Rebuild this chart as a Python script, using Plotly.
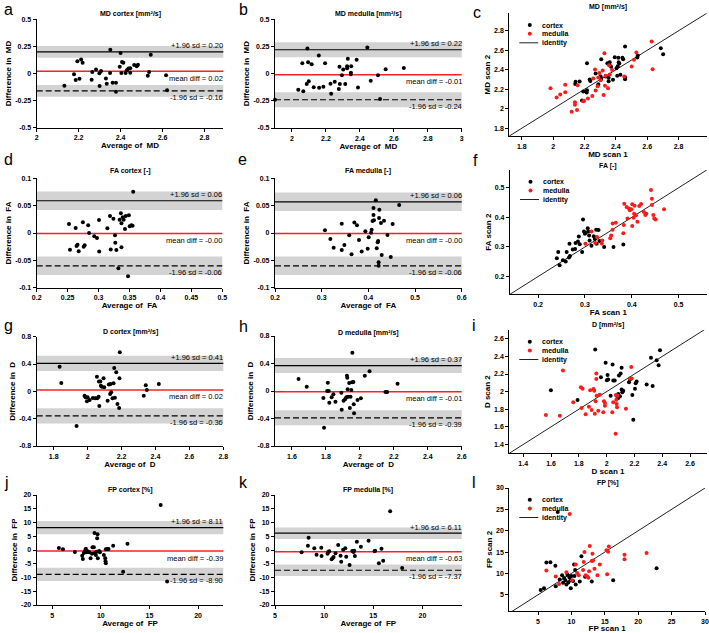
import plotly.graph_objects as go

W, H = 709, 633
FONT = "Liberation Sans, Arial, Helvetica, sans-serif"

# ---------------- data ----------------
# (a) MD cortex Bland-Altman
md_cortex_avg = [2.132, 2.178, 2.186, 2.194, 2.204, 2.212, 2.219, 2.262, 2.265, 2.283, 2.299, 2.300, 2.307, 2.330, 2.334, 2.350, 2.351, 2.362, 2.378, 2.378, 2.396, 2.400, 2.404, 2.407, 2.413, 2.424, 2.430, 2.438, 2.446, 2.446, 2.465, 2.477, 2.483, 2.530, 2.536, 2.544, 2.617, 2.622]
md_cortex_diff = [-0.113, -0.008, -0.060, 0.112, -0.048, 0.130, 0.100, -0.057, 0.014, 0.038, 0.002, -0.115, 0.023, -0.045, -0.094, 0.005, 0.220, -0.085, -0.085, -0.168, 0.063, 0.190, 0.005, 0.105, 0.100, 0.005, 0.029, 0.045, 0.008, 0.048, 0.078, 0.066, 0.081, -0.020, 0.014, 0.173, -0.017, -0.155]
md_cortex_limits = [0.20, 0.02, -0.16]
md_cortex_band = 0.054

# (b) MD medulla Bland-Altman
md_medulla_avg = [1.900, 2.037, 2.061, 2.067, 2.087, 2.091, 2.095, 2.099, 2.116, 2.128, 2.158, 2.160, 2.185, 2.195, 2.227, 2.231, 2.252, 2.276, 2.280, 2.282, 2.294, 2.302, 2.314, 2.325, 2.325, 2.329, 2.347, 2.347, 2.349, 2.381, 2.389, 2.444, 2.464, 2.507, 2.519, 2.552, 2.659]
md_medulla_diff = [-0.240, -0.148, 0.096, -0.163, -0.096, 0.231, 0.105, -0.069, 0.087, -0.124, 0.167, -0.130, -0.121, 0.096, -0.093, -0.185, -0.075, -0.142, 0.063, -0.096, -0.014, 0.038, -0.096, 0.050, 0.069, 0.136, 0.008, -0.005, 0.069, 0.127, -0.127, 0.240, -0.066, -0.014, -0.234, 0.041, 0.053]
md_medulla_limits = [0.22, -0.01, -0.24]
md_medulla_band = 0.068

# (c) MD scan 1 vs scan 2
md_cortex_scan1 = [2.216, 2.307, 2.459, 2.393, 2.442, 2.447, 2.416, 2.418, 2.422, 2.412, 2.346, 2.361, 2.361, 2.370, 2.404, 2.409, 2.429, 2.459, 2.459, 2.382, 2.354, 2.335, 2.303, 2.307, 2.297, 2.288, 2.271, 2.237, 2.216, 2.214, 2.192, 2.184, 2.169, 2.143, 2.141, 2.354, 2.233, 2.540, 2.537, 2.687, 2.702]
md_cortex_scan2 = [2.468, 2.509, 2.639, 2.529, 2.523, 2.509, 2.523, 2.478, 2.464, 2.437, 2.468, 2.478, 2.447, 2.430, 2.416, 2.338, 2.348, 2.303, 2.324, 2.297, 2.283, 2.331, 2.331, 2.307, 2.321, 2.252, 2.362, 2.286, 2.190, 2.166, 2.177, 2.084, 2.279, 2.276, 2.255, 2.317, 2.300, 2.547, 2.526, 2.622, 2.560]
md_medulla_scan1 = [1.983, 2.022, 2.045, 2.077, 2.077, 2.118, 2.139, 2.139, 2.152, 2.156, 2.192, 2.197, 2.222, 2.250, 2.256, 2.267, 2.271, 2.284, 2.288, 2.295, 2.303, 2.316, 2.322, 2.327, 2.331, 2.335, 2.350, 2.361, 2.356, 2.376, 2.454, 2.501, 2.516, 2.531, 2.629, 2.635]
md_medulla_scan2 = [2.211, 2.115, 2.146, 2.170, 2.245, 1.968, 2.067, 2.040, 1.988, 2.242, 2.077, 2.081, 2.105, 2.132, 2.310, 2.403, 2.187, 2.232, 2.321, 2.368, 2.293, 2.392, 2.142, 2.571, 2.235, 2.338, 2.211, 2.351, 2.447, 2.399, 2.331, 2.434, 2.502, 2.577, 2.690, 2.406]

# (d) FA cortex Bland-Altman
fa_cortex_avg = [0.2522, 0.2538, 0.263, 0.2644, 0.266, 0.2679, 0.2747, 0.2759, 0.2775, 0.2832, 0.2846, 0.293, 0.2975, 0.3007, 0.301, 0.3142, 0.3185, 0.3197, 0.324, 0.3266, 0.327, 0.3288, 0.332, 0.334, 0.336, 0.337, 0.337, 0.339, 0.3406, 0.3427, 0.344, 0.3476, 0.349, 0.3503, 0.353, 0.355, 0.356]
fa_cortex_diff = [0.0165, -0.0305, 0.0091, -0.0238, -0.0213, -0.0335, 0.0195, -0.025, -0.0226, 0.014, 0.0, -0.0061, -0.0091, 0.0238, -0.034, 0.0085, 0.031, -0.030, 0.026, -0.0043, -0.018, -0.031, -0.0646, 0.0244, 0.036, 0.0177, -0.026, 0.029, 0.0244, 0.0073, 0.031, -0.079, 0.0323, 0.0122, 0.014, 0.0134, 0.0756]
fa_cortex_limits = [0.059, -0.001, -0.060]
fa_cortex_band = 0.017

# (e) FA medulla Bland-Altman
fa_medulla_avg = [0.307, 0.3186, 0.3257, 0.343, 0.343, 0.3486, 0.359, 0.364, 0.370, 0.3757, 0.380, 0.3857, 0.3936, 0.3986, 0.4007, 0.4057, 0.407, 0.409, 0.411, 0.411, 0.412, 0.416, 0.418, 0.420, 0.421, 0.422, 0.422, 0.4229, 0.4236, 0.427, 0.4286, 0.4336, 0.441, 0.448, 0.452, 0.466]
fa_medulla_diff = [0.0049, -0.011, -0.0268, 0.017, -0.031, -0.022, -0.0043, -0.039, 0.019, 0.014, -0.0128, -0.034, 0.003, -0.0287, -0.0079, 0.0006, 0.0061, 0.022, 0.0329, 0.0457, 0.0232, 0.0598, -0.028, -0.017, -0.0146, -0.0537, -0.060, 0.0274, 0.0427, 0.0183, -0.040, 0.0226, -0.0037, -0.044, 0.0165, 0.0512]
fa_medulla_limits = [0.057, -0.001, -0.060]
fa_medulla_band = 0.017

# (f) FA scan 1 vs scan 2
fa_cortex_scan1 = [0.240, 0.243, 0.246, 0.253, 0.259, 0.261, 0.266, 0.268, 0.267, 0.274, 0.279, 0.280, 0.285, 0.287, 0.289, 0.294, 0.296, 0.298, 0.300, 0.302, 0.306, 0.307, 0.309, 0.310, 0.314, 0.319, 0.321, 0.324, 0.325, 0.331, 0.341, 0.361, 0.329, 0.382]
fa_cortex_scan2 = [0.262, 0.283, 0.238, 0.255, 0.251, 0.283, 0.264, 0.269, 0.311, 0.291, 0.293, 0.313, 0.318, 0.335, 0.309, 0.283, 0.393, 0.352, 0.345, 0.348, 0.363, 0.352, 0.339, 0.322, 0.304, 0.336, 0.327, 0.358, 0.311, 0.320, 0.300, 0.300, 0.357, 0.308]
fa_medulla_scan1 = [0.301, 0.314, 0.322, 0.326, 0.336, 0.337, 0.354, 0.356, 0.359, 0.359, 0.366, 0.382, 0.383, 0.384, 0.389, 0.391, 0.394, 0.396, 0.399, 0.401, 0.401, 0.404, 0.405, 0.406, 0.409, 0.412, 0.416, 0.420, 0.426, 0.429, 0.431, 0.441, 0.443, 0.443, 0.446, 0.448, 0.451, 0.469]
fa_medulla_scan2 = [0.311, 0.352, 0.313, 0.334, 0.312, 0.322, 0.329, 0.339, 0.379, 0.358, 0.382, 0.346, 0.374, 0.446, 0.435, 0.396, 0.430, 0.424, 0.427, 0.444, 0.371, 0.399, 0.412, 0.439, 0.407, 0.385, 0.438, 0.445, 0.418, 0.408, 0.412, 0.492, 0.442, 0.463, 0.408, 0.396, 0.393, 0.427]

# (g) D cortex Bland-Altman
d_cortex_avg = [1.835, 1.845, 1.935, 1.982, 1.988, 1.996, 2.000, 2.012, 2.031, 2.045, 2.055, 2.057, 2.065, 2.067, 2.069, 2.075, 2.078, 2.084, 2.094, 2.098, 2.118, 2.125, 2.133, 2.135, 2.139, 2.147, 2.153, 2.157, 2.161, 2.169, 2.176, 2.186, 2.188, 2.190, 2.331, 2.343, 2.349, 2.420]
d_cortex_diff = [0.361, 0.122, -0.507, -0.063, -0.088, -0.146, -0.088, -0.127, -0.098, -0.102, 0.215, -0.102, -0.078, 0.146, -0.215, 0.146, 0.083, 0.068, 0.190, 0.059, -0.137, 0.102, -0.039, 0.107, -0.015, -0.102, 0.117, 0.341, -0.093, 0.278, -0.185, -0.244, 0.190, 0.571, -0.063, 0.088, 0.020, 0.107]
d_cortex_limits = [0.41, 0.02, -0.36]
d_cortex_band = 0.112

# (h) D medulla Bland-Altman
d_medulla_avg = [1.639, 1.687, 1.785, 1.789, 1.807, 1.811, 1.817, 1.820, 1.834, 1.844, 1.856, 1.891, 1.893, 1.904, 1.913, 1.920, 1.924, 1.926, 1.928, 1.931, 1.937, 1.941, 1.945, 1.950, 1.956, 1.954, 1.962, 1.964, 1.966, 1.986, 2.006, 2.029, 2.057, 2.151, 2.161, 2.222]
d_medulla_diff = [0.175, 0.063, -0.102, -0.534, 0.0, 0.121, 0.0, -0.170, -0.092, -0.049, -0.155, -0.024, -0.272, -0.141, -0.121, -0.092, 0.223, 0.194, 0.024, -0.083, 0.117, -0.248, -0.083, 0.015, 0.558, 0.126, 0.131, -0.194, -0.325, -0.131, -0.107, 0.223, 0.286, -0.015, -0.015, 0.107]
d_medulla_limits = [0.37, -0.01, -0.39]
d_medulla_band = 0.109

# (i) D scan 1 vs scan 2
d_cortex_scan1 = [1.599, 1.791, 1.918, 1.959, 1.993, 2.007, 2.011, 2.002, 2.029, 2.043, 2.048, 2.058, 2.072, 2.089, 2.101, 2.108, 2.108, 2.113, 2.084, 2.096, 2.084, 2.120, 2.161, 2.168, 2.185, 2.192, 2.204, 2.209, 2.216, 2.288, 2.319, 2.331, 2.360, 2.374, 2.384]
d_cortex_scan2 = [2.015, 1.905, 2.478, 2.163, 2.327, 2.190, 2.137, 2.130, 1.954, 2.308, 2.126, 2.126, 1.954, 2.182, 2.205, 2.270, 2.023, 1.992, 1.973, 1.947, 1.927, 2.011, 2.106, 2.137, 1.962, 1.681, 2.034, 2.095, 2.114, 2.080, 2.384, 2.065, 2.357, 2.300, 2.471]
d_medulla_scan1 = [1.563, 1.664, 1.686, 1.760, 1.815, 1.820, 1.827, 1.849, 1.873, 1.882, 1.892, 1.906, 1.911, 1.915, 1.921, 1.926, 1.926, 1.928, 1.940, 1.950, 1.976, 1.981, 1.988, 1.988, 2.041, 2.048, 2.065, 2.067, 2.070, 2.072, 2.075, 2.079, 2.139, 2.166, 2.177, 2.180]
d_medulla_scan2 = [1.734, 1.727, 2.239, 1.879, 2.049, 1.814, 2.034, 1.742, 1.829, 2.015, 1.791, 2.030, 2.011, 1.749, 1.891, 2.205, 2.144, 1.954, 1.784, 1.966, 1.765, 1.891, 1.871, 1.841, 1.765, 1.879, 1.521, 1.962, 1.909, 1.860, 1.822, 1.954, 1.807, 2.148, 2.281, 2.148]

# (j) FP cortex Bland-Altman
fp_cortex_avg = [5.68, 6.10, 7.33, 8.08, 8.15, 8.25, 8.39, 8.46, 8.53, 8.63, 8.80, 8.94, 9.08, 9.14, 9.28, 9.32, 9.35, 9.49, 9.55, 9.62, 9.66, 9.69, 9.83, 9.90, 10.31, 10.45, 10.51, 10.48, 10.51, 10.65, 10.79, 11.27, 12.29, 12.74, 16.16, 16.82]
fp_cortex_diff = [0.73, 0.24, -0.73, -2.06, -3.27, -1.09, -0.12, 0.48, -0.85, -0.48, -0.85, -3.03, -1.33, 0.97, 0.97, -1.21, 6.18, -1.82, -0.61, 4.24, 5.70, -3.03, -0.36, -0.85, -1.82, -3.03, -4.85, -4.12, 0.24, 0.36, 0.36, 1.58, -7.88, 2.30, 16.36, -11.50]
fp_cortex_limits = [8.11, -0.39, -8.90]
fp_cortex_band = 2.4

# (k) FP medulla Bland-Altman
fp_medulla_avg = [7.71, 8.35, 8.42, 9.00, 9.23, 9.71, 9.74, 10.35, 10.42, 10.52, 10.76, 10.86, 10.96, 11.16, 11.43, 11.67, 11.74, 11.94, 12.15, 12.25, 12.59, 12.86, 13.00, 13.06, 13.13, 13.33, 13.74, 14.52, 15.13, 15.19, 15.57, 15.84, 16.01, 16.72, 17.94]
fp_medulla_diff = [-0.85, 1.58, 4.48, 0.61, -1.70, 0.85, -2.18, -1.33, -0.73, -0.48, -3.39, -3.03, -2.55, -1.21, 1.82, -2.06, -4.24, 0.12, 0.61, -2.42, -5.45, -0.36, -0.73, -0.24, -2.18, 3.03, 1.21, 3.39, -0.48, -0.24, -4.85, 0.48, -3.88, 14.06, -6.55]
fp_medulla_limits = [6.11, -0.63, -7.37]
fp_medulla_band = 2.1

# (l) FP scan 1 vs scan 2
fp_cortex_scan1 = [5.40, 5.90, 6.25, 6.85, 7.60, 7.65, 7.95, 8.25, 8.60, 8.75, 8.90, 9.10, 9.25, 9.40, 9.55, 9.70, 9.85, 10.00, 9.90, 10.25, 10.40, 10.45, 10.55, 10.65, 11.25, 11.50, 12.05, 13.05, 16.25, 22.75]
fp_cortex_scan2 = [6.1, 6.5, 12.55, 12.6, 11.8, 7.0, 24.4, 8.6, 9.6, 7.8, 8.9, 8.4, 7.4, 9.7, 7.9, 9.1, 8.4, 9.4, 6.5, 8.2, 12.1, 9.4, 10.8, 7.4, 8.1, 14.0, 9.2, 8.1, 8.4, 11.2]
fp_medulla_scan1 = [6.25, 7.65, 8.15, 9.25, 9.75, 10.10, 10.65, 10.85, 11.10, 11.75, 11.85, 11.95, 12.15, 12.35, 12.55, 12.65, 12.75, 13.05, 13.15, 13.25, 13.45, 13.90, 14.25, 15.35, 15.25, 15.50, 15.60, 17.95, 17.95, 21.25]
fp_medulla_scan2 = [10.7, 9.3, 7.5, 10.3, 23.9, 8.4, 12.1, 10.1, 9.6, 10.8, 12.7, 15.0, 9.6, 9.3, 9.0, 10.5, 16.4, 12.9, 14.6, 13.0, 11.1, 9.6, 12.1, 9.8, 15.4, 15.1, 16.3, 14.4, 13.3, 14.8]

# tick values / labels
ba_md_yticks = [-0.5, -0.25, 0, 0.25, 0.5]
ba_md_ylabels = ["-0.5", "-0.25", "0", "0.25", "0.5"]
ba_fa_yticks = [-0.1, -0.05, 0, 0.05, 0.1]
ba_fa_ylabels = ["-0.1", "-0.05", "0", "0.05", "0.1"]
ba_d_yticks = [-0.8, -0.4, 0, 0.4, 0.8]
ba_d_ylabels = ["-0.8", "-0.4", "0", "0.4", "0.8"]
ba_fp_yticks = [-20, -15, -10, -5, 0, 5, 10, 15, 20]
ba_fp_ylabels = ["-20", "-15", "-10", "-5", "0", "5", "10", "15", "20"]

# ---------------- layout helpers ----------------
fig = go.Figure()
shapes = []
annotations = []
layout = {}

def names(i):
    s = "" if i == 1 else str(i)
    return "x" + s, "y" + s, "xaxis" + s, "yaxis" + s

def fmt(v):
    return ("%.2f" % v).rstrip("0").rstrip(".")

def axis(domain, rng, tv, tt, anchor, title, standoff):
    return dict(domain=domain, range=rng, tickvals=tv, ticktext=tt, anchor=anchor,
                showline=True, linecolor="black", linewidth=1.1, ticks="outside",
                ticklen=3, tickwidth=1, tickcolor="black", showgrid=False,
                zeroline=False, automargin=False, fixedrange=True,
                tickfont=dict(family=FONT, size=7, color="black", weight="bold"),
                title=dict(text=title, standoff=standoff,
                           font=dict(family=FONT, size=8, color="black", weight="bold")))

def panel(i, box, xr, xt, yr, yt, xtitle, ytitle):
    x0, x1, top, bot = box
    xn, yn, xk, yk = names(i)
    layout[xk] = axis([x0 / W, x1 / W], xr, xt, [fmt(v) for v in xt], yn, xtitle, 2)
    layout[yk] = axis([1 - bot / H, 1 - top / H], yr, yt[0], yt[1], xn, ytitle, 2)
    return xn, yn

def add_text(xpx, ypx, text, size, bold=False, xanchor="center"):
    f = dict(family=FONT, size=size, color="black")
    if bold:
        f["weight"] = "bold"
    annotations.append(dict(xref="paper", yref="paper", x=xpx / W, y=1 - ypx / H,
                            text=text, showarrow=False, xanchor=xanchor, yanchor="middle",
                            font=f))

def bland_altman(i, box, avg, diff, limits, band, xr, xt, yr, yt, meas):
    xn, yn = panel(i, box, xr, xt, yr, yt, "Average of  " + meas, "Difference in  " + meas)
    xd = xn + " domain"
    up, mean, lo = limits
    for c in (up, lo):
        shapes.append(dict(type="rect", xref=xd, yref=yn, x0=0, x1=1, y0=c - band, y1=c + band,
                           fillcolor="#d3d3d3", line=dict(width=0), layer="below"))
    shapes.append(dict(type="line", xref=xd, yref=yn, x0=0, x1=1, y0=up, y1=up,
                       line=dict(color="black", width=1.2), layer="below"))
    shapes.append(dict(type="line", xref=xd, yref=yn, x0=0, x1=1, y0=lo, y1=lo,
                       line=dict(color="black", width=1.2, dash="6px,3px"), layer="below"))
    shapes.append(dict(type="line", xref=xd, yref=yn, x0=0, x1=1, y0=mean, y1=mean,
                       line=dict(color="#ff2020", width=1.5), layer="below"))
    fig.add_trace(go.Scatter(x=avg, y=diff, mode="markers", xaxis=xn, yaxis=yn,
                             marker=dict(color="black", size=4), cliponaxis=False,
                             hoverinfo="skip"))
    for val, txt, dy in ((up, "+1.96 sd = %.2f" % up, 6),
                         (mean, "mean diff = %.2f" % mean, -7),
                         (lo, "-1.96 sd = %.2f" % lo, -6.5)):
        annotations.append(dict(xref=xd, yref=yn, x=1, y=val, text=txt, showarrow=False,
                                xanchor="right", yanchor="middle", yshift=dy, xshift=2,
                                font=dict(family=FONT, size=7.5, color="black")))

def scan_scatter(i, box, c1, c2, m1, m2, xr, yr, ticks, meas):
    xn, yn = panel(i, box, xr, ticks, yr, (ticks, [fmt(v) for v in ticks]),
                   meas + " scan 1", meas + " scan 2")
    lo = min(xr[0], yr[0]) - 1
    hi = max(xr[1], yr[1]) + 1
    fig.add_trace(go.Scatter(x=[lo, hi], y=[lo, hi], mode="lines", xaxis=xn, yaxis=yn,
                             line=dict(color="#222222", width=1), hoverinfo="skip"))
    fig.add_trace(go.Scatter(x=c1, y=c2, mode="markers", xaxis=xn, yaxis=yn,
                             marker=dict(color="black", size=4), hoverinfo="skip"))
    fig.add_trace(go.Scatter(x=m1, y=m2, mode="markers", xaxis=xn, yaxis=yn,
                             marker=dict(color="#ff1a1a", size=4), hoverinfo="skip"))
    # compact legend (cortex / medulla / identity)
    x0, _, top, _ = box
    for dy, col, label in ((11.7, "black", "cortex"), (20.5, "#ff1a1a", "medulla")):
        shapes.append(dict(type="circle", xref="paper", yref="paper",
                           xsizemode="pixel", ysizemode="pixel",
                           xanchor=(x0 + 20.5) / W, yanchor=1 - (top + dy) / H,
                           x0=-2, x1=2, y0=-2, y1=2, fillcolor=col, line=dict(width=0)))
        annotations.append(dict(xref="paper", yref="paper", x=(x0 + 31) / W, y=1 - (top + dy) / H,
                                text=label, showarrow=False, xanchor="left", yanchor="middle",
                                font=dict(family=FONT, size=7, color="black", weight="bold")))
    shapes.append(dict(type="line", xref="paper", yref="paper", x0=(x0 + 10) / W, x1=(x0 + 29) / W,
                       y0=1 - (top + 29.5) / H, y1=1 - (top + 29.5) / H,
                       line=dict(color="#222222", width=1)))
    annotations.append(dict(xref="paper", yref="paper", x=(x0 + 31) / W, y=1 - (top + 29.5) / H,
                            text="identity", showarrow=False, xanchor="left", yanchor="middle",
                            font=dict(family=FONT, size=7, color="black", weight="bold")))

# panel boxes in pixels: (left, right, top, bottom)
BOX = {
    1: (36.7, 223.3, 19.3, 127.7), 2: (275, 461.7, 19.3, 128), 3: (509.3, 706.7, 13.3, 136),
    4: (36.7, 222.3, 178.3, 287.7), 5: (275, 461.7, 178.3, 287.7), 6: (510, 706.7, 170, 294.3),
    7: (36.7, 223.3, 336.7, 446), 8: (275, 461.7, 336, 446), 9: (509.3, 706.7, 330, 453.3),
    10: (36.7, 223.3, 495, 605), 11: (275, 461.7, 495, 605), 12: (509.3, 705, 488, 611),
}

bland_altman(1, BOX[1], md_cortex_avg, md_cortex_diff, md_cortex_limits, md_cortex_band,
             [2, 2.89], [2, 2.2, 2.4, 2.6, 2.8], [-0.5, 0.5], (ba_md_yticks, ba_md_ylabels), "MD")
bland_altman(2, BOX[2], md_medulla_avg, md_medulla_diff, md_medulla_limits, md_medulla_band,
             [1.9, 3], [2, 2.2, 2.4, 2.6, 2.8, 3], [-0.5, 0.5], (ba_md_yticks, ba_md_ylabels), "MD")
scan_scatter(3, BOX[3], md_cortex_scan1, md_cortex_scan2, md_medulla_scan1, md_medulla_scan2,
             [1.72, 2.98], [1.72, 2.98], [1.8, 2, 2.2, 2.4, 2.6, 2.8], "MD")

bland_altman(4, BOX[4], fa_cortex_avg, fa_cortex_diff, fa_cortex_limits, fa_cortex_band,
             [0.2, 0.5], [0.2, 0.25, 0.3, 0.35, 0.4, 0.45, 0.5], [-0.1, 0.1], (ba_fa_yticks, ba_fa_ylabels), "FA")
bland_altman(5, BOX[5], fa_medulla_avg, fa_medulla_diff, fa_medulla_limits, fa_medulla_band,
             [0.2, 0.6], [0.2, 0.3, 0.4, 0.5, 0.6], [-0.1, 0.1], (ba_fa_yticks, ba_fa_ylabels), "FA")
scan_scatter(6, BOX[6], fa_cortex_scan1, fa_cortex_scan2, fa_medulla_scan1, fa_medulla_scan2,
             [0.14, 0.56], [0.14, 0.56], [0.2, 0.3, 0.4, 0.5], "FA")

bland_altman(7, BOX[7], d_cortex_avg, d_cortex_diff, d_cortex_limits, d_cortex_band,
             [1.7, 2.8], [1.8, 2, 2.2, 2.4, 2.6, 2.8], [-0.8, 0.8], (ba_d_yticks, ba_d_ylabels), "D")
bland_altman(8, BOX[8], d_medulla_avg, d_medulla_diff, d_medulla_limits, d_medulla_band,
             [1.5, 2.6], [1.6, 1.8, 2, 2.2, 2.4, 2.6], [-0.8, 0.8], (ba_d_yticks, ba_d_ylabels), "D")
scan_scatter(9, BOX[9], d_cortex_scan1, d_cortex_scan2, d_medulla_scan1, d_medulla_scan2,
             [1.3, 2.72], [1.3, 2.7], [1.4, 1.6, 1.8, 2, 2.2, 2.4, 2.6], "D")

bland_altman(10, BOX[10], fp_cortex_avg, fp_cortex_diff, fp_cortex_limits, fp_cortex_band,
             [3.4, 22.6], [5, 10, 15, 20], [-20, 20], (ba_fp_yticks, ba_fp_ylabels), "FP")
bland_altman(11, BOX[11], fp_medulla_avg, fp_medulla_diff, fp_medulla_limits, fp_medulla_band,
             [5, 24], [5, 10, 15, 20], [-20, 20], (ba_fp_yticks, ba_fp_ylabels), "FP")
scan_scatter(12, BOX[12], fp_cortex_scan1, fp_cortex_scan2, fp_medulla_scan1, fp_medulla_scan2,
             [0.7, 30], [1.2, 30], [5, 10, 15, 20, 25, 30], "FP")

# panel titles
titles = [
    (130, 14, "MD cortex [mm²/s]"), (368, 14, "MD medulla [mm²/s]"),
    (608, 7.5, "MD [mm²/s]"),
    (130, 171, "FA cortex [-]"), (368, 171, "FA medulla [-]"), (608, 166, "FA [-]"),
    (130, 332, "D cortex [mm²/s]"), (368, 332.5, "D medulla [mm²/s]"),
    (608, 325, "D [mm²/s]"),
    (130, 490, "FP cortex [%]"), (368, 490, "FP medulla [%]"), (608, 483, "FP [%]"),
]
for xp, yp, t in titles:
    add_text(xp, yp, t, 7, bold=True)

# panel letters
letters = [
    (2, 9, "a"), (237, 9, "b"), (471, 12.5, "c"),
    (2, 159.5, "d"), (236, 159.5, "e"), (471, 161, "f"),
    (2, 326, "g"), (237, 326.5, "h"), (470, 325, "i"),
    (2, 482, "j"), (237, 482, "k"), (470, 482, "l"),
]
for xp, yp, t in letters:
    add_text(xp, yp, t, 16, xanchor="left")

layout.update(dict(width=W, height=H, margin=dict(l=0, r=0, t=0, b=0),
                   paper_bgcolor="white", plot_bgcolor="white", showlegend=False,
                   font=dict(family=FONT, color="black"),
                   shapes=shapes, annotations=annotations))
fig.update_layout(**layout)
fig.write_html("out.html", config={"displayModeBar": False, "staticPlot": True},
               post_script="document.body.style.margin='0';document.body.style.overflow='hidden';")
